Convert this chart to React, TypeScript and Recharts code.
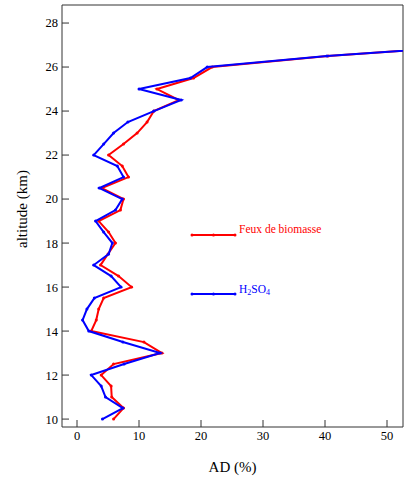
import React from 'react';
import { ScatterChart, Scatter, XAxis, YAxis } from 'recharts';

const altitudes = [10, 10.5, 11, 11.5, 12, 12.5, 13, 13.5, 14, 14.5, 15, 15.5, 16, 16.5, 17, 17.5, 18, 18.5, 19, 19.5, 20, 20.5, 21, 21.5, 22, 22.5, 23, 23.5, 24, 24.5, 25, 25.5, 26, 26.5, 27];
const feuxValues = [5.9, 7.5, 5.6, 5.5, 3.9, 5.9, 13.7, 10.8, 2.3, 3.1, 3.5, 4.3, 8.8, 6.7, 3.8, 5.0, 6.2, 5.1, 3.5, 7.0, 7.5, 4.0, 8.3, 7.3, 5.1, 7.5, 9.7, 11.3, 12.4, 16.4, 12.9, 18.8, 21.8, 40.5, 66];
const h2so4Values = [4.1, 7.4, 4.6, 3.9, 2.3, 7.6, 13.4, 7.4, 1.9, 0.9, 1.6, 2.8, 7.1, 5.5, 2.7, 5.1, 5.7, 4.3, 3.0, 6.2, 7.3, 3.6, 7.5, 6.5, 2.7, 4.3, 5.9, 8.2, 12.4, 16.8, 10.0, 18.3, 21.0, 40.3, 66];

const xMajorTicks = [0, 10, 20, 30, 40, 50];
const xMinorTicks = [5, 15, 25, 35, 45];
const xAllTicks = [0, 5, 10, 15, 20, 25, 30, 35, 40, 45, 50];
const yTicks = [10, 12, 14, 16, 18, 20, 22, 24, 26, 28];

const seriesNames = ['Feux de biomasse', 'H2SO4'];

const feuxData = altitudes.map((alt, i) => ({ alt, ad: feuxValues[i] }));
const h2so4Data = altitudes.map((alt, i) => ({ alt, ad: h2so4Values[i] }));

const FONT = 'Liberation Serif';
const AXIS = '#333';
const RED = '#ff0000';
const BLUE = '#0000ff';
const X_DOMAIN: [number, number] = [-2.42, 52.58];
const Y_DOMAIN: [number, number] = [9.64, 28.82];

const dot = (color: string) => (p: any) => (
  <circle cx={p.cx} cy={p.cy} r={1.5} fill={color} stroke="none" />
);

const BottomTick = (p: any) => (
  <text
    x={p.x}
    y={p.y}
    dy="0.71em"
    textAnchor="middle"
    fill="#000"
    fontFamily={FONT}
    fontSize={12.5}
    style={{ fontFamily: FONT, fontSize: 12.5 }}
  >
    {p.payload.value}
  </text>
);

const LeftTick = (p: any) => (
  <text
    x={p.x}
    y={p.y}
    dy="0.355em"
    textAnchor="end"
    fill="#000"
    fontFamily={FONT}
    fontSize={12.5}
    style={{ fontFamily: FONT, fontSize: 12.5 }}
  >
    {p.payload.value}
  </text>
);

const XLabel = (props: any) => {
  const vb = props.viewBox || { x: 62, y: 427, width: 341, height: 53 };
  const cx = vb.x + vb.width / 2;
  const cy = vb.y + vb.height - 13;
  return (
    <text
      x={cx}
      y={cy}
      textAnchor="middle"
      dominantBaseline="central"
      fill="#000"
      fontFamily={FONT}
      fontSize={15}
      style={{ fontFamily: FONT, fontSize: 15 }}
    >
      AD (%)
    </text>
  );
};

const YLabel = (props: any) => {
  const vb = props.viewBox || { x: 0, y: 5, width: 62, height: 422 };
  const cx = vb.x + 22;
  const cy = vb.y + vb.height / 2 - 7;
  return (
    <text
      x={cx}
      y={cy}
      transform={`rotate(-90, ${cx}, ${cy})`}
      textAnchor="middle"
      dominantBaseline="central"
      fill="#000"
      fontFamily={FONT}
      fontSize={15}
      style={{ fontFamily: FONT, fontSize: 15 }}
    >
      altitude (km)
    </text>
  );
};

export default function App() {
  return (
    <div style={{ position: 'absolute', left: 0, top: 0, width: 404, height: 480, fontFamily: FONT }}>
      <ScatterChart width={404} height={480} margin={{ top: 0, right: 0, bottom: 0, left: 0 }} style={{ fontFamily: FONT }}>
        <XAxis
          xAxisId="minor"
          dataKey="ad"
          type="number"
          orientation="bottom"
          domain={X_DOMAIN}
          allowDataOverflow
          ticks={xMinorTicks}
          interval={0}
          height={0}
          tickSize={-4}
          tick={false}
          axisLine={false}
          stroke={AXIS}
        />
        <XAxis
          xAxisId="b"
          dataKey="ad"
          type="number"
          orientation="bottom"
          domain={X_DOMAIN}
          allowDataOverflow
          ticks={xMajorTicks}
          interval={0}
          height={53}
          tickSize={-7}
          tickMargin={11}
          tick={BottomTick}
          stroke={AXIS}
          label={XLabel}
        />
        <XAxis
          xAxisId="t"
          dataKey="ad"
          type="number"
          orientation="top"
          domain={X_DOMAIN}
          allowDataOverflow
          ticks={xAllTicks}
          interval={0}
          height={5}
          tickSize={-7}
          tick={false}
          stroke={AXIS}
        />
        <YAxis
          yAxisId="l"
          dataKey="alt"
          type="number"
          orientation="left"
          domain={Y_DOMAIN}
          allowDataOverflow
          ticks={yTicks}
          interval={0}
          width={62}
          tickSize={-7}
          tickMargin={11}
          tick={LeftTick}
          stroke={AXIS}
          label={YLabel}
        />
        <YAxis
          yAxisId="r"
          dataKey="alt"
          type="number"
          orientation="right"
          domain={Y_DOMAIN}
          allowDataOverflow
          ticks={yTicks}
          interval={0}
          width={1}
          tickSize={-7}
          tick={false}
          stroke={AXIS}
        />
        <Scatter
          name={seriesNames[0]}
          data={feuxData}
          xAxisId="b"
          yAxisId="l"
          line={{ stroke: RED, strokeWidth: 2 }}
          lineType="joint"
          shape={dot(RED)}
          fill={RED}
          isAnimationActive={false}
        />
        <Scatter
          name={seriesNames[1]}
          data={h2so4Data}
          xAxisId="b"
          yAxisId="l"
          line={{ stroke: BLUE, strokeWidth: 2 }}
          lineType="joint"
          shape={dot(BLUE)}
          fill={BLUE}
          isAnimationActive={false}
        />
      </ScatterChart>
      <svg
        width={404}
        height={480}
        style={{ position: 'absolute', left: 0, top: 0, pointerEvents: 'none' }}
      >
        <g>
          <line x1={192} y1={235} x2={235} y2={235} stroke={RED} strokeWidth={2} />
          <circle cx={192} cy={235} r={1.5} fill={RED} />
          <circle cx={213.5} cy={235} r={1.5} fill={RED} />
          <circle cx={235} cy={235} r={1.5} fill={RED} />
          <text x={239} y={233} fill={RED} fontFamily={FONT} fontSize={11.5}>
            {seriesNames[0]}
          </text>
        </g>
        <g>
          <line x1={192} y1={294} x2={235} y2={294} stroke={BLUE} strokeWidth={2} />
          <circle cx={192} cy={294} r={1.5} fill={BLUE} />
          <circle cx={213.5} cy={294} r={1.5} fill={BLUE} />
          <circle cx={235} cy={294} r={1.5} fill={BLUE} />
          <text x={239} y={293} fill={BLUE} fontFamily={FONT} fontSize={11.5}>
            H<tspan fontSize={8} dy={2}>2</tspan>
            <tspan dy={-2}>SO</tspan>
            <tspan fontSize={8} dy={2}>4</tspan>
          </text>
        </g>
      </svg>
    </div>
  );
}
